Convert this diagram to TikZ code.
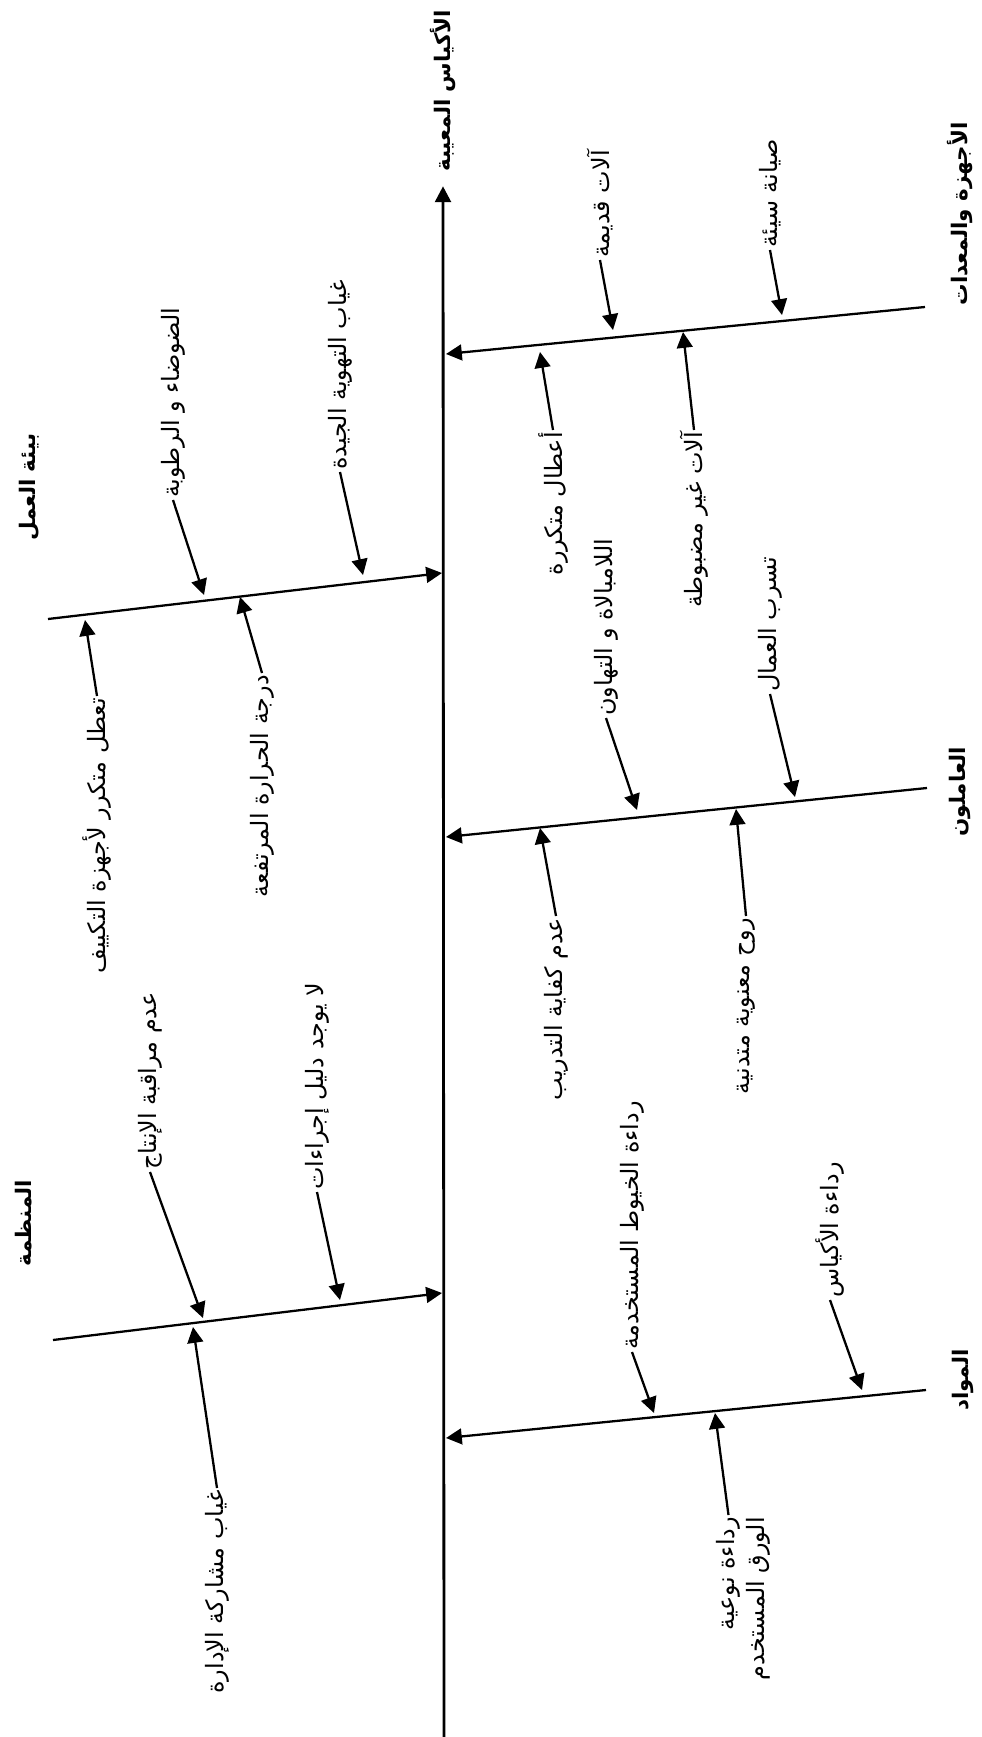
\documentclass[tikz,border=0pt]{standalone}
\usepackage{fontspec}
\usetikzlibrary{arrows.meta,calc}
\newfontfamily\arabicfont[Script=Arabic]{DejaVu Sans}
\TeXXeTstate=1
\newcommand{\artxt}[1]{\beginR #1\endR}

\begin{document}
\begin{tikzpicture}[x=0.02cm, y=-0.02cm,
  cause/.style={rotate=90, inner sep=1pt, font=\arabicfont\fontsize{13.6}{17}\selectfont},
  group/.style={rotate=90, inner sep=1pt, font=\arabicfont\bfseries\fontsize{12.2}{16}\selectfont},
  spine/.style={line width=1.6pt, shorten >=7pt, -{Triangle[length=9pt,width=9pt]}},
  bone/.style={line width=1.3pt, -{Triangle[length=9pt,width=9pt]}},
  twig/.style={line width=1.3pt, -{Triangle[length=9pt,width=9pt]}}]
\useasboundingbox (0,0) rectangle (982,1737);

% spine and effect
\coordinate (tail) at (444,1737);
\node[group, anchor=west] (effect) at (443,174) {\artxt{الأكياس المعيبة}};
\draw[spine] (tail) -- (effect.west);

% group labels
\node[group] (equip) at (960,214) {\artxt{الأجهزة والمعدات}};
\node[group] (staff) at (960,792) {\artxt{العاملون}};
\node[group] (mat) at (963,1380) {\artxt{المواد}};
\node[group] (env) at (29,487) {\artxt{بيئة العمل}};
\node[group] (org) at (24,1223) {\artxt{المنظمة}};

% bones
\coordinate (b1) at (925,307); \coordinate (s1) at (446,354);
\coordinate (b2) at (927,788); \coordinate (s2) at (446,837);
\coordinate (b3) at (926,1390); \coordinate (s3) at (446,1438);
\coordinate (b4) at (48,619); \coordinate (s4) at (442,573);
\coordinate (b5) at (53,1340); \coordinate (s5) at (442,1293);
\draw[bone] (b1) -- (s1);
\draw[bone] (b2) -- (s2);
\draw[bone] (b3) -- (s3);
\draw[bone] (b4) -- (s4);
\draw[bone] (b5) -- (s5);

% equipment
\node[cause, anchor=west] (c11) at (600,260) {\artxt{آلات قديمة}};
\node[cause, anchor=west] (c12) at (770,250) {\artxt{صيانة سيئة}};
\node[cause, anchor=east] (c13) at (553,430) {\artxt{أعطال متكررة}};
\node[cause, anchor=east] (c14) at (694,430) {\artxt{آلات غير مضبوطة}};
\coordinate (t11) at (613,330);
\coordinate (t12) at (782,315);
\coordinate (t13) at (540,352);
\coordinate (t14) at (683,332);
\draw[twig] (c11.west) -- (t11);
\draw[twig] (c12.west) -- (t12);
\draw[twig] (c13.east) -- (t13);
\draw[twig] (c14.east) -- (t14);

% workers
\node[cause, anchor=west] (c21) at (606,718) {\artxt{اللامبالاة و التهاون}};
\node[cause, anchor=west] (c22) at (770,694) {\artxt{تسرب العمال}};
\node[cause, anchor=east] (c23) at (556,916) {\artxt{عدم كفاية التدريب}};
\node[cause, anchor=east] (c24) at (746,916) {\artxt{روح معنوية متدنية}};
\coordinate (t21) at (637,810);
\coordinate (t22) at (795,797);
\coordinate (t23) at (540,828);
\coordinate (t24) at (736,809);
\draw[twig] (c21.west) -- (t21);
\draw[twig] (c22.west) -- (t22);
\draw[twig] (c23.east) -- (t23);
\draw[twig] (c24.east) -- (t24);

% materials
\node[cause, anchor=west] (c31) at (632,1352) {\artxt{رداءة الخيوط المستخدمة}};
\node[cause, anchor=west] (c32) at (830,1300) {\artxt{رداءة الأكياس}};
\node[cause, anchor=east, align=right] (c33) at (743,1515) {\artxt{رداءة نوعية}\\\artxt{الورق المستخدم}};
\coordinate (t31) at (654,1413);
\coordinate (t32) at (862,1390);
\coordinate (t33) at (715,1413);
\draw[twig] (c31.west) -- (t31);
\draw[twig] (c32.west) -- (t32);
\draw[twig] ($(c33.east)!0.5!(c33.north east)$) -- (t33);

% work environment
\node[cause, anchor=west] (c41) at (173,500) {\artxt{الضوضاء و الرطوبة}};
\node[cause, anchor=west] (c42) at (340,472) {\artxt{غياب التهوية الجيدة}};
\node[cause, anchor=east] (c43) at (97,696) {\artxt{تعطل متكرر لأجهزة التكييف}};
\node[cause, anchor=east] (c44) at (262,673) {\artxt{درجة الحرارة المرتفعة}};
\coordinate (t41) at (204,595);
\coordinate (t42) at (363,575);
\coordinate (t43) at (85,620);
\coordinate (t44) at (240,597);
\draw[twig] (c41.west) -- (t41);
\draw[twig] (c42.west) -- (t42);
\draw[twig] (c43.east) -- (t43);
\draw[twig] (c44.east) -- (t44);

% organisation
\node[cause, anchor=west] (c51) at (150,1172) {\artxt{عدم مراقبة الإنتاج}};
\node[cause, anchor=west] (c52) at (317,1192) {\artxt{لا يوجد دليل إجراءات}};
\node[cause, anchor=east] (c53) at (217,1488) {\artxt{غياب مشاركة الإدارة}};
\coordinate (t51) at (203,1318);
\coordinate (t52) at (340,1300);
\coordinate (t53) at (193,1327);
\draw[twig] (c51.west) -- (t51);
\draw[twig] (c52.west) -- (t52);
\draw[twig] (c53.east) -- (t53);
\end{tikzpicture}
\end{document}
